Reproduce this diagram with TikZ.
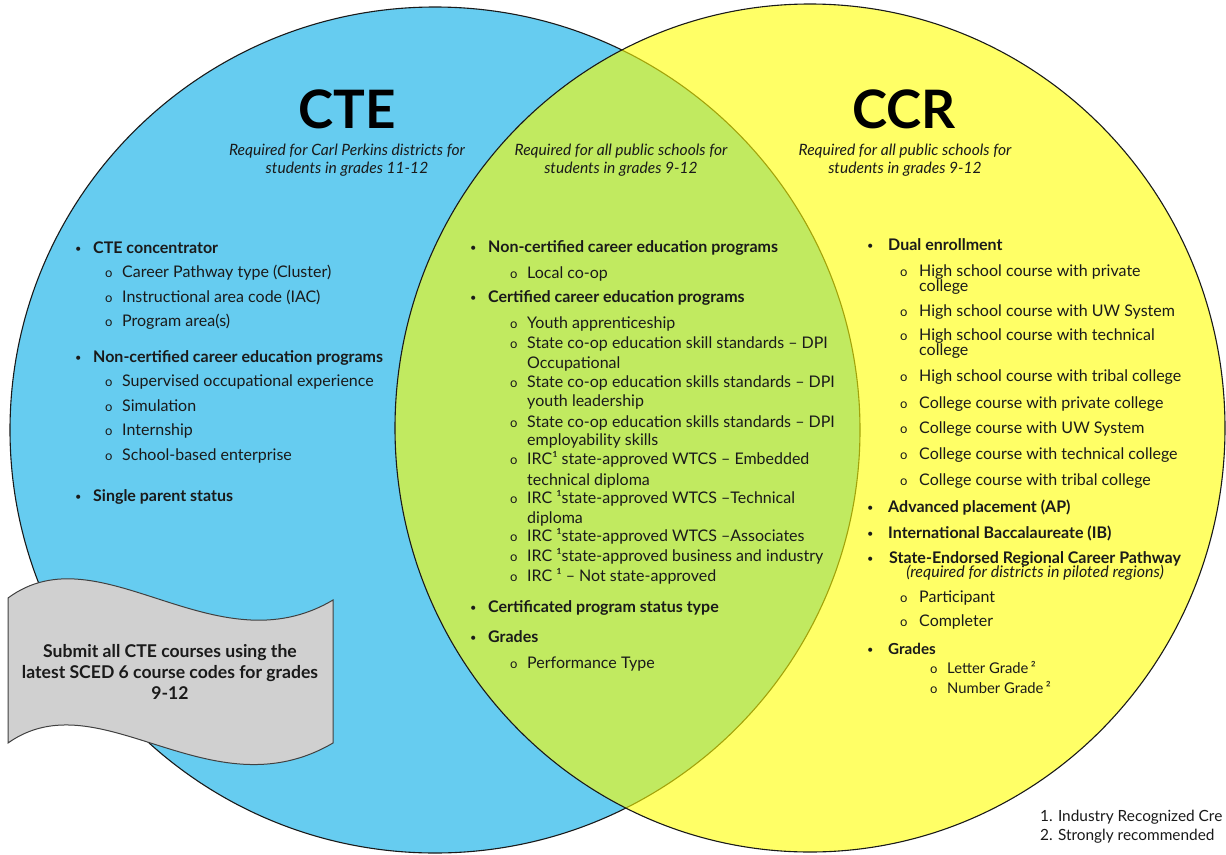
\documentclass[tikz,border=0pt]{standalone}
\usepackage{fontspec}
\setmainfont{Lato}
\usetikzlibrary{positioning}

\definecolor{cteblue}{RGB}{102,204,240}
\definecolor{ccryellow}{RGB}{255,255,0}
\definecolor{bannergray}{RGB}{208,208,208}
\definecolor{edgegray}{RGB}{64,64,64}
\definecolor{ink}{RGB}{26,26,26}

% bullets: main dot (bold heading) and sub ring
\newcommand{\mainpt}[1][18pt]{\llap{\makebox[#1][l]{\normalfont\fontsize{11}{11}\selectfont\raisebox{0.5pt}{•}}}\bfseries}
\newcommand{\subpt}[1][17pt]{\llap{\makebox[#1][l]{\normalfont\fontsize{13}{13}\selectfont o}}}

\begin{document}
\begin{tikzpicture}[x=1pt, y=-1pt,
	cteitem/.style={anchor=base west, inner sep=0pt, text=ink, align=left, font=\fontsize{16}{18}\selectfont},
	miditem/.style={cteitem, font=\fontsize{16}{18}\selectfont},
	ccritem/.style={cteitem, font=\fontsize{16}{18}\selectfont},
	bigtitle/.style={anchor=base, inner sep=0pt, text=black, font=\fontsize{53}{60}\selectfont\bfseries},
	subnote/.style={align=center, inner sep=0pt, text=ink, font=\fontsize{15.6}{18.5}\selectfont\itshape},
	ring/.style={line width=1.1pt, draw=ink}]
	\fill[white] (0,0) rectangle (1226,854);
	\useasboundingbox (0,0) rectangle (1226,854);

	% the two sets
	\path[ring, fill=cteblue] (435,430) ellipse [x radius=425pt, y radius=423pt];
	\path[ring, fill=ccryellow, fill opacity=0.6] (810,428) ellipse [x radius=415pt, y radius=424pt];

	% wave banner
	\draw[line width=1pt, draw=edgegray, fill=bannergray]
		(8,598) .. controls (100,530) and (215,670) .. (333,600) -- (333,743)
		.. controls (210,815) and (100,678) .. (8,743) -- cycle;
	\node[align=center, inner sep=0pt, text=ink, font=\fontsize{17.6}{21}\selectfont\bfseries] (banner) at (170,672)
		{Submit all CTE courses using the\\latest SCED 6 course codes for grades\\9-12};

	% titles
	\node[bigtitle] (ctetitle) at (347,128) {CTE};
	\node[bigtitle] (ccrtitle) at (904,128) {CCR};
	\node[subnote] (ctenote) at (347,160) {Required for Carl Perkins districts for\\students in grades 11-12};
	\node[subnote] (midnote) at (621,160) {Required for all public schools for\\students in grades 9-12};
	\node[subnote] (ccrnote) at (905,160) {Required for all public schools for\\students in grades 9-12};

	% CTE only
	\foreach \x/\y/\txt [count=\i] in {
		93/253/{\mainpt CTE concentrator},
		122/277/{\subpt Career Pathway type (Cluster)},
		122/302/{\subpt Instructional area code (IAC)},
		122/326/{\subpt Program area(s)},
		93/362/{\mainpt Non-certified career education programs},
		122/386/{\subpt Supervised occupational experience},
		122/411/{\subpt Simulation},
		122/435/{\subpt Internship},
		122/460/{\subpt School-based enterprise},
		93/501/{\mainpt Single parent status}}
		\node[cteitem] (cte\i) at (\x,\y) {\txt};

	% shared (y is the baseline of the last line)
	\foreach \x/\y/\txt [count=\i] in {
		488/252/{\mainpt Non-certified career education programs},
		527/278/{\subpt Local co-op},
		488/302/{\mainpt Certified career education programs},
		527/328/{\subpt Youth apprenticeship},
		527/368/{\subpt State co-op education skill standards – DPI\\[2pt]Occupational},
		527/406/{\subpt State co-op education skills standards – DPI\\[1pt]youth leadership},
		527/445/{\subpt State co-op education skills standards – DPI\\[0pt]employability skills},
		527/485/{\subpt IRC¹ state-approved WTCS – Embedded\\[3pt]technical diploma},
		527/523/{\subpt IRC ¹state-approved WTCS –Technical\\[2pt]diploma},
		527/541/{\subpt IRC ¹state-approved WTCS –Associates},
		527/561/{\subpt IRC ¹state-approved business and industry},
		527/581/{\subpt IRC ¹ – Not state-approved},
		488/612/{\mainpt Certificated program status type},
		488/642/{\mainpt Grades},
		527/668/{\subpt Performance Type}}
		\node[miditem] (mid\i) at (\x,\y) {\txt};

	% CCR only
	\foreach \x/\y/\txt/\al [count=\i] in {
		888/250/{\mainpt[21pt]Dual enrollment}/left,
		919/291/{\subpt[19pt]High school course with private\\[-3pt]college}/left,
		919/316/{\subpt[19pt]High school course with UW System}/left,
		919/355/{\subpt[19pt]High school course with technical\\[-3pt]college}/left,
		919/381/{\subpt[19pt]High school course with tribal college}/left,
		919/408/{\subpt[19pt]College course with private college}/left,
		919/433/{\subpt[19pt]College course with UW System}/left,
		919/459/{\subpt[19pt]College course with technical college}/left,
		919/485/{\subpt[19pt]College course with tribal college}/left,
		888/512/{\mainpt[21pt]Advanced placement (AP)}/left,
		888/538/{\mainpt[21pt]International Baccalaureate (IB)}/left,
		889/577/{\mainpt[22pt]State-Endorsed Regional Career Pathway\\[-4pt]\itshape (required for districts in piloted regions)}/center,
		919/602/{\subpt[19pt]Participant}/left,
		919/626/{\subpt[19pt]Completer}/left,
		888/654/{\mainpt[21pt]\fontsize{15.2}{17}\selectfont Grades}/left,
		947/673/{\subpt[17pt]\fontsize{14.8}{17}\selectfont Letter Grade\,²}/left,
		947/693/{\subpt[17pt]\fontsize{14.8}{17}\selectfont Number Grade\,²}/left}
		\node[ccritem, align=\al] (ccr\i) at (\x,\y) {\txt};

	% footnotes
	\node[cteitem, font=\fontsize{15.4}{18}\selectfont] (fnone) at (1040,821) {1. Industry Recognized Cre};
	\node[cteitem, font=\fontsize{15.4}{18}\selectfont, below=19pt of fnone.base west, anchor=base west] (fntwo) {2. Strongly recommended};
\end{tikzpicture}
\end{document}
